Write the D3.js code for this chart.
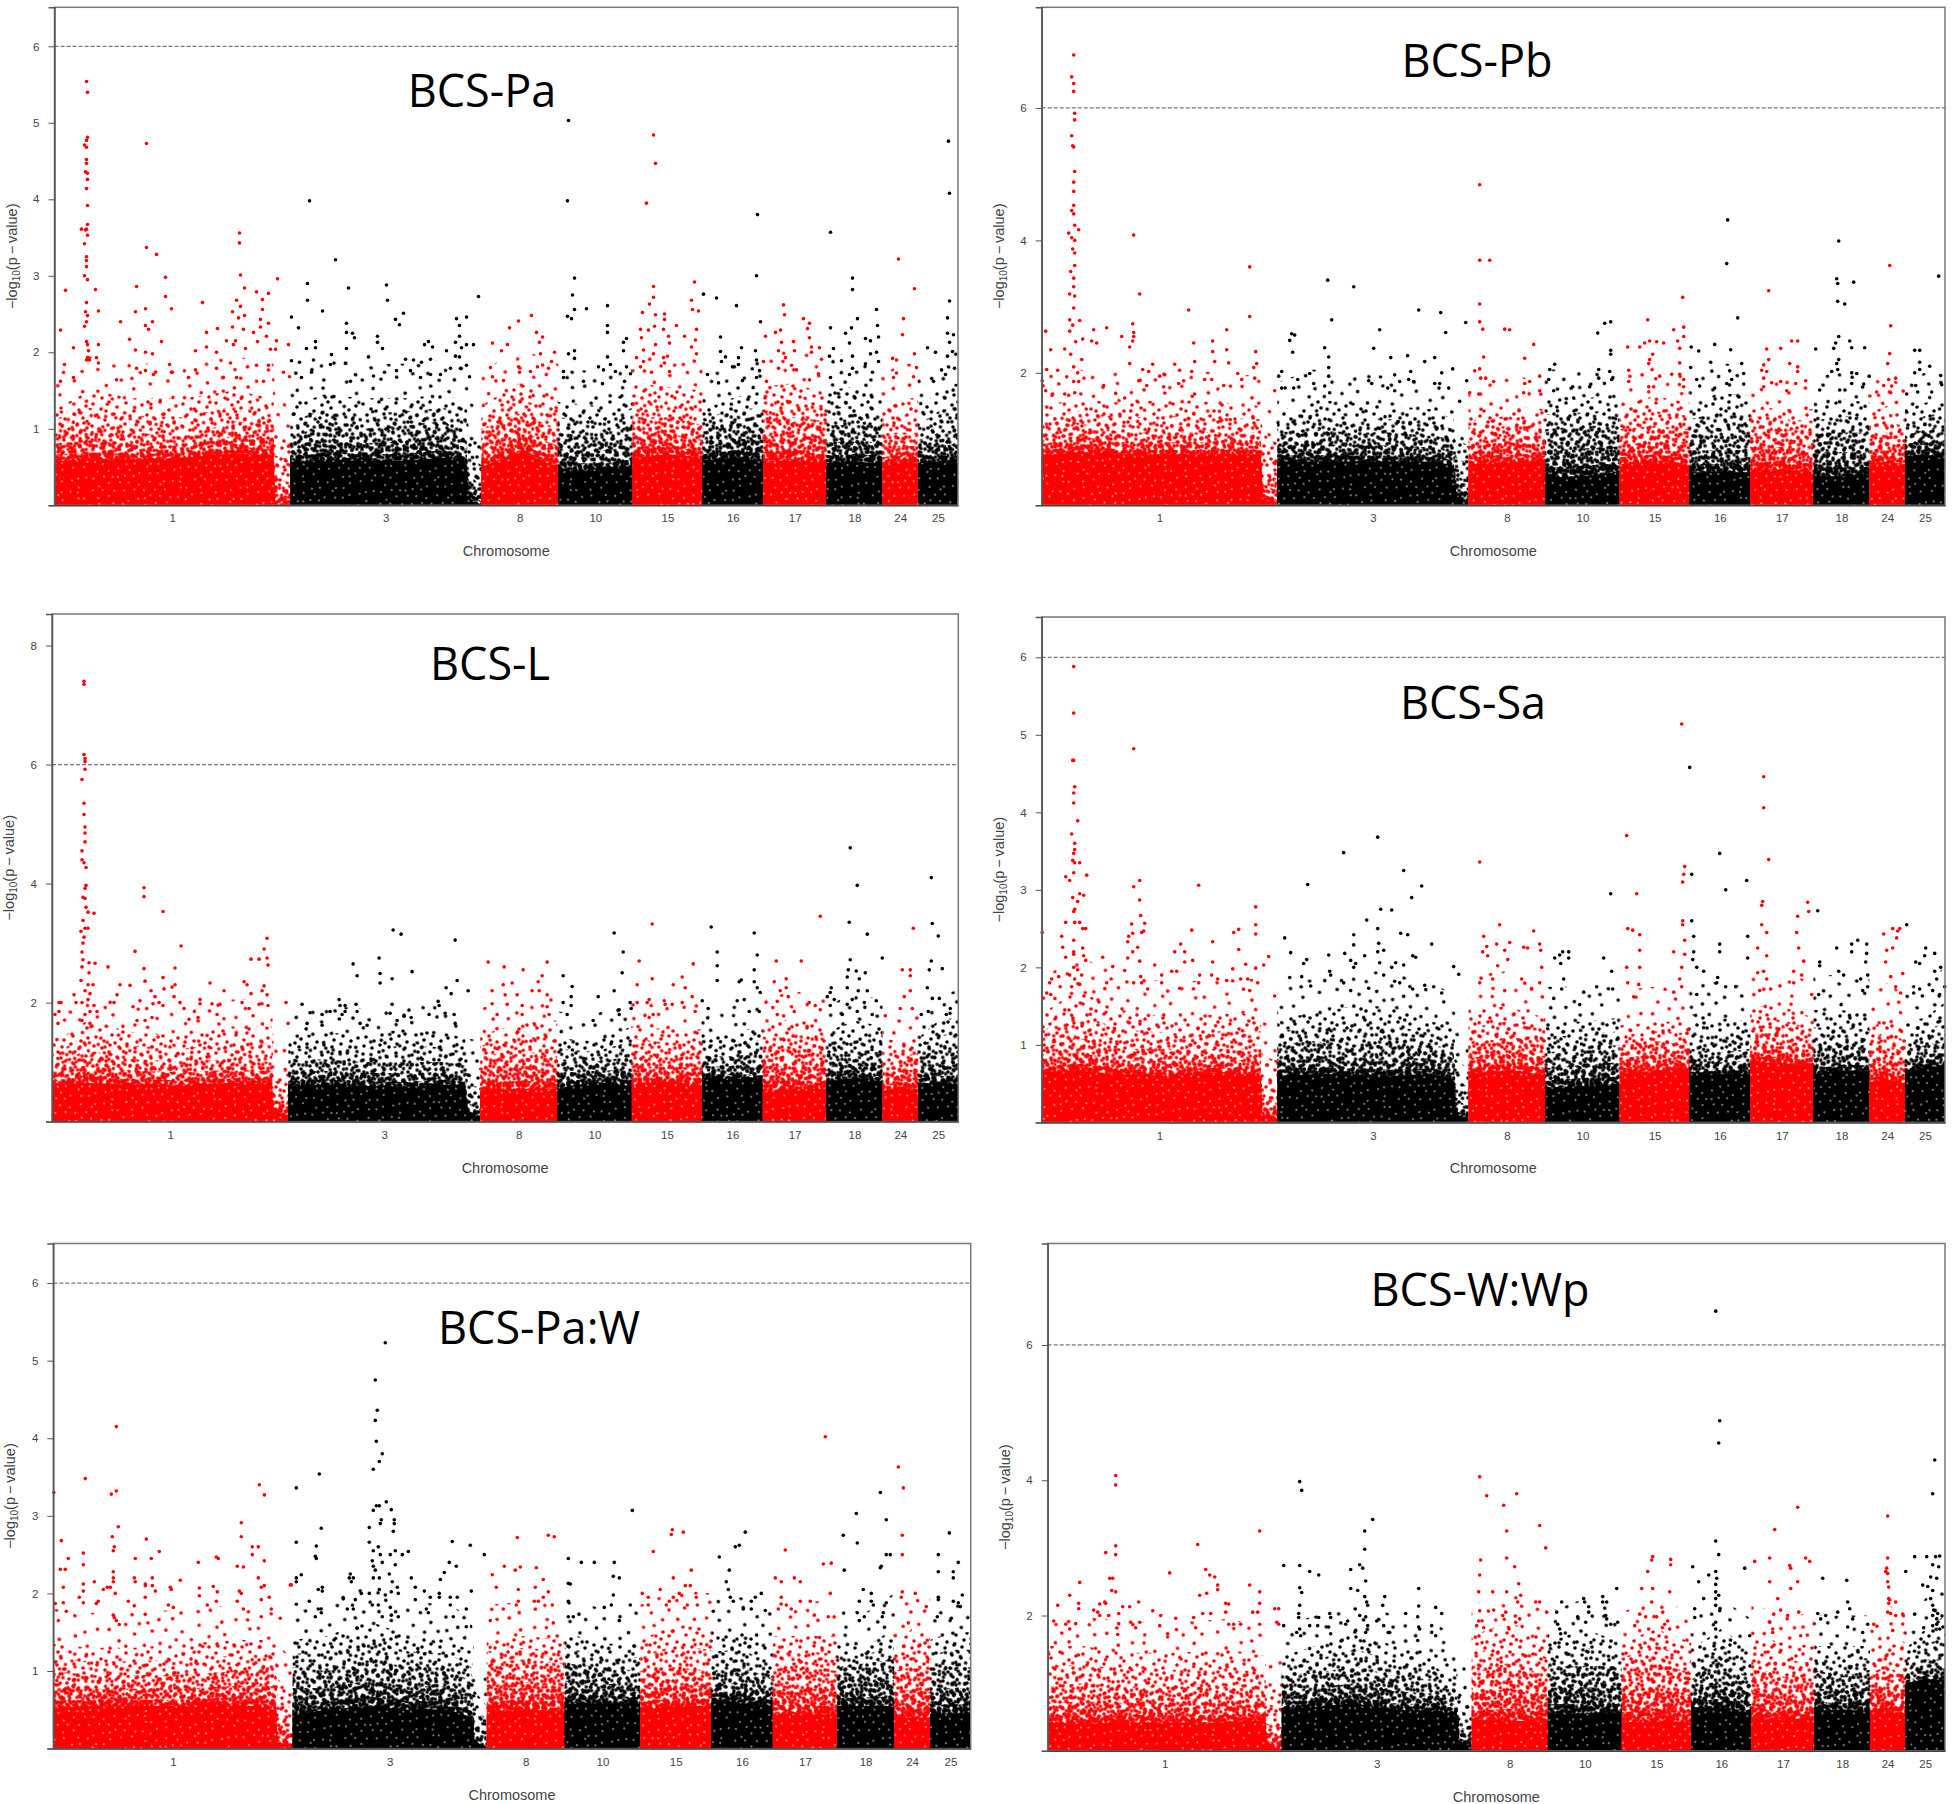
<!DOCTYPE html>
<html>
<head>
<meta charset="utf-8">
<script src="https://cdn.jsdelivr.net/npm/d3@7"></script>
<style>
body { margin: 0; background: #fff; }
svg { display: block; }
text { font-family: "Liberation Sans", Arial, sans-serif; fill: #444; }
.title { font-family: "Open Sans", sans-serif; font-size: 45px; fill: #000; text-anchor: middle; }
</style>
</head>
<body>
<div id="chart"></div>
<script>
// chromosomes, in plot order, on a common position axis
const chromNames = ['1', '3', '8', '10', '15', '16', '17', '18', '24', '25'];
const chromEnds = [235.7, 427, 503.8, 578.2, 648.2, 708.8, 772.2, 828.2, 863.8, 903.8];
const chromColors = ['#f00', '#000'];

const chromSamples = [
  [0, 35, 80, 130, 180, 219, 221, 235.7],
  [235.7, 270, 310, 350, 390, 412, 415, 427],
  [427, 465, 503.8], [503.8, 541, 578.2], [578.2, 613, 648.2], [648.2, 678, 708.8],
  [708.8, 740, 772.2], [772.2, 800, 828.2], [828.2, 846, 863.8], [863.8, 884, 903.8]
];

// The tens of thousands of low SNPs cannot be read one by one, so the mass is drawn
// as three envelopes: solid top, dense speckle top, sparse speckle top.
const solidPa = [[.58, .6, .6, .62, .68, .65, 0, 0], [.55, .6, .58, .58, .62, .55, .1, 0], [.5, .7, .5], [.48, .45, .48], [.62, .67, .62], [.58, .62, .58], [.57, .6, .55], [.55, .57, .55], [.55, .57, .55], [.55, .57, .55]];
const densePa = [[1, 1.05, .95, .9, 1.1, 1.05, .35, .3], [.85, 1.1, 1, 1.05, 1.1, .9, .4, .25], [1, 1.2, 1], [.95, .9, 1.05], [1.15, 1.15, 1.05], [1, 1.1, 1.05], [1.2, 1.15, 1.1], [1.05, 1.05, 1.05], [.95, .95, .95], [.85, .95, 1]];
const sparsePa = [[1.25, 1.5, 1.4, 1.4, 1.5, 1.4, .95, .9], [1.3, 1.45, 1.4, 1.4, 1.45, 1.35, .9, .8], [1.3, 1.6, 1.4], [1.35, 1.3, 1.5], [1.6, 1.55, 1.5], [1.25, 1.4, 1.5], [1.55, 1.6, 1.45], [1.5, 1.55, 1.4], [1.25, 1.4, 1.4], [1.25, 1.5, 1.6]];

const solidPb = [[.75, .8, .77, .77, .77, .77, .1, 0], [.66, .66, .66, .66, .66, .6, .15, 0], [.62, .66, .66], [.42, .44, .5], [.62, .66, .6], [.5, .5, .5], [.5, .55, .5], [.44, .44, .44], [.6, .66, .6], [.75, .77, .7]];
const densePb = [[1.05, 1.25, 1.1, 1.1, 1.1, 1.1, .5, .4], [1.1, 1.15, 1.1, 1.1, 1.05, 1, .45, .35], [1.1, 1.2, 1.1], [1.15, 1.2, 1.2], [1.15, 1.2, 1.15], [1.1, 1.1, 1.1], [1.2, 1.15, 1.1], [1.1, 1.1, 1.1], [1, 1.1, 1], [1.05, 1.15, 1.2]];
const sparsePb = [[1.5, 1.6, 1.55, 1.6, 1.55, 1.5, 1.1, .9], [1.4, 1.6, 1.55, 1.5, 1.45, 1.3, 1, .9], [1.45, 1.5, 1.45], [1.6, 1.6, 1.7], [1.5, 1.65, 1.55], [1.5, 1.7, 1.65], [1.5, 1.45, 1.45], [1.45, 1.6, 1.55], [1.4, 1.5, 1.35], [1.45, 1.55, 1.6]];

const solidL = [[.62, .65, .62, .62, .65, .65, .15, .1], [.6, .62, .6, .58, .62, .6, .15, .1], [.52, .55, .55], [.55, .67, .6], [.62, .67, .62], [.7, .73, .68], [.52, .55, .55], [.68, .73, .68], [.52, .55, .55], [.62, .67, .62]];
const denseL = [[.95, 1.2, 1.05, 1, 1.05, 1, .5, .5], [1, 1.05, 1, 1, 1, .95, .3, .25], [1.1, 1.2, 1.1], [1.05, 1, 1.1], [1.2, 1.1, 1.15], [1.1, 1.1, 1.15], [1.25, 1.25, 1.2], [1.15, 1.15, 1.15], [1, 1.1, 1.15], [1.1, 1.2, 1.2]];
const sparseL = [[1.3, 1.7, 1.5, 1.45, 1.6, 1.6, .85, .85], [1.4, 1.5, 1.45, 1.55, 1.5, 1.4, .95, .9], [1.45, 1.65, 1.7], [1.4, 1.35, 1.6], [1.6, 1.55, 1.55], [1.5, 1.5, 1.6], [1.6, 1.75, 1.6], [1.5, 1.7, 1.6], [1.4, 1.35, 1.4], [1.4, 1.7, 1.75]];

const solidSa = [[.65, .67, .62, .6, .65, .6, .1, .05], [.6, .62, .62, .6, .62, .55, .1, .05], [.62, .67, .62], [.45, .47, .5], [.62, .67, .7], [.65, .62, .62], [.77, .77, .72], [.62, .67, .67], [.52, .55, .5], [.62, .72, .72]];
const denseSa = [[.95, 1.1, .95, .95, .95, .95, .3, .25], [1, 1.05, 1, 1, 1, .95, .3, .2], [1, 1.1, 1.05], [.9, .96, 1], [1, 1.05, 1], [.95, .9, .95], [1.15, 1.15, 1.05], [1, 1, 1], [.95, 1, .9], [.9, 1, 1.05]];
const sparseSa = [[1.4, 1.7, 1.45, 1.35, 1.4, 1.4, .85, .8], [1.35, 1.4, 1.5, 1.5, 1.3, 1.25, .8, .7], [1.45, 1.5, 1.35], [1.3, 1.3, 1.35], [1.25, 1.3, 1.3], [1.4, 1.35, 1.3], [1.5, 1.5, 1.35], [1.45, 1.45, 1.4], [1.2, 1.35, 1.2], [1.3, 1.35, 1.55]];

const solidPaW = [[.52, .55, .55, .55, .58, .5, .1, 0], [.45, .5, .55, .5, .5, .4, .1, 0], [.48, .5, .48], [.6, .58, .58], [.5, .55, .55], [.62, .6, .55], [.45, .45, .42], [.55, .55, .55], [.4, .4, .4], [.45, .45, .45]];
const densePaW = [[1, .95, .95, .95, 1, 1.05, .4, .3], [1.05, 1, 1.15, 1.05, 1.05, .85, .3, .2], [1.1, 1.15, 1.1], [1.1, 1.05, 1], [1, 1.05, 1], [1, 1.05, .9], [1, 1.05, 1], [1.05, 1.1, 1.15], [1, 1.05, 1], [1, 1.05, 1.05]];
const sparsePaW = [[1.35, 1.3, 1.3, 1.35, 1.4, 1.4, .9, .7], [1.4, 1.45, 1.65, 1.45, 1.4, 1.25, .75, .55], [1.4, 1.45, 1.4], [1.5, 1.35, 1.35], [1.4, 1.6, 1.55], [1.5, 1.5, 1.3], [1.45, 1.45, 1.45], [1.35, 1.3, 1.55], [1.3, 1.55, 1.5], [1.4, 1.5, 1.5]];

const solidWWp = [[.42, .4, .42, .42, .42, .45, .1, 0], [.6, .65, .7, .6, .6, .5, .15, .05], [.45, .45, .42], [.55, .55, .55], [.42, .45, .42], [.65, .62, .6], [.5, .45, .5], [.6, .6, .6], [.6, .6, .55], [1, 1.05, 1.05]];
const denseWWp = [[.95, 1, .95, .95, .95, .9, .4, .35], [1.15, 1.15, 1.25, 1.1, 1.05, .8, .35, .3], [1.15, 1.3, 1.1], [1.25, 1.25, 1.25], [1.15, 1.3, 1.15], [1.05, 1.35, 1.05], [1.25, 1.1, 1.05], [1.2, 1.1, 1.2], [1.15, 1.25, 1.1], [1.2, 1.35, 1.35]];
const sparseWWp = [[1.55, 1.55, 1.45, 1.45, 1.5, 1.4, 1, .9], [1.4, 1.55, 1.75, 1.55, 1.45, 1.2, .85, .7], [1.7, 1.9, 1.65], [1.6, 1.8, 1.6], [1.6, 1.8, 1.6], [1.5, 1.8, 1.5], [1.7, 1.6, 1.55], [1.55, 1.55, 1.55], [1.4, 1.7, 1.6], [1.5, 1.8, 2]];

// single points above the mass: [position, -log10(p)]
const pointsPa = [[32,5.54],[33,5.4],[33,4.81],[32,4.77],[30,4.71],[32,4.68],[32,4.52],[32,4.47],[31,4.36],[33,4.34],[33,4.26],[32,4.14],[33,3.92],[33,3.67],[32,3.61],[27,3.61],[31,3.6],[33,3.53],[30,3.42],[32,3.25],[32,3.2],[32,3.12],[30,3],[33,2.95],[32,2.65],[31,2.53],[33,2.48],[32,2.4],[30,2.34],[32,2.14],[33,2.1],[34,2.02],[33,1.93],[35,1.9],[32,1.9],
[11,2.81],[6,2.29],[19,2.06],[10,1.84],[41,2.82],[44,2.54],[44,2.1],[42,1.93],[44,1.86],[92,4.73],[92,3.37],[102,3.28],[111,2.98],[111,2.73],[117,2.57],[82,2.86],[91,2.57],[81,2.53],[66,2.4],[91,2.35],[94,2.3],[98,2.4],[107,2.14],[75,2.17],[81,2.03],[91,2],[98,1.98],[115,1.84],[148,2.65],[152,2.26],[152,2.07],[163,2.31],[141,2.02],[185,3.56],[185,3.43],[186,3.01],[190,2.84],[182,2.68],[186,2.6],[178,2.53],[184,2.45],[190,2.48],[178,2.33],[189,2.3],[172,2.15],[181,2.15],[162,2],[179,2.1],[191,2.05],[202,2.79],[214,2.77],[208,2.69],[208,2.56],[206,2.43],[214,2.38],[206,2.33],[199,2.26],[212,2.21],[203,2.14],[222,2.15],[223,2.96],[234,2.1],[216,2.04],[221,2.04],[229,1.74],[235,1.68],[19,1.67],[6,1.62],[62,1.64],[82,1.79],[91,1.76],[99,1.71],[117,1.74],[134,1.67],[141,1.77],[162,1.79],[176,1.86],[202,1.83],[214,1.83],[169,1.67],[182,1.67],[209,1.62],
[255,3.98],[281,3.21],[253,2.9],[253,2.68],[294,2.84],[268,2.54],[237,2.46],[244,2.32],[332,2.88],[333,2.68],[349,2.51],[341,2.43],[345,2.36],[424,2.73],[412,2.46],[402,2.44],[405,2.35],[292,2.38],[292,2.26],[298,2.25],[300,2.19],[323,2.21],[323,2.13],[328,2.05],[405,2.21],[374,2.14],[370,2.1],[378,2.07],[392,2.02],[401,2.13],[407,2.06],[419,2.1],[412,2.1],[261,2.14],[252,2.05],[261,2.06],[237,1.89],[245,1.87],[259,1.9],[277,1.97],[276,1.84],[291,1.86],[292,2.05],[314,1.94],[351,1.91],[359,1.9],[367,1.87],[376,1.91],[401,1.95],[405,1.94],[412,1.83],[396,1.79],[406,1.79],[247,1.67],[257,1.74],[296,1.62],[319,1.69],[330,1.74],[342,1.76],[356,1.76],[366,1.67],[376,1.71],[386,1.71],[415,1.68],
[438,2.12],[447,2.02],[453,2.1],[455,2.32],[464,2.41],[477,2.48],[482,2.26],[488,2.2],[485,2.13],[486,1.98],[500,2],[497,1.88],[494,1.79],[483,1.81],[464,1.81],[436,1.8],[438,1.68],[465,1.74],[476,1.75],[449,1.63],
[514,5.03],[513,3.98],[520,2.97],[518,2.75],[520,2.56],[513,2.47],[517,2.44],[532,2.57],[553,2.61],[553,2.35],[553,2.26],[569,2.13],[572,2.18],[569,2.02],[514,1.98],[520,2.02],[520,1.92],[553,1.94],[556,1.84],[544,1.81],[549,1.77],[561,1.75],[572,1.81],[576,1.72],[509,1.75],[509,1.67],[529,1.62],[548,1.59],[570,1.62],
[599,4.84],[601,4.47],[592,3.95],[599,2.86],[595,2.63],[599,2.72],[588,2.52],[601,2.49],[610,2.5],[610,2.43],[600,2.34],[586,2.3],[594,2.29],[609,2.3],[622,2.35],[587,2.19],[614,2.21],[615,2.12],[640,2.92],[637,2.68],[638,2.56],[644,2.54],[642,2.3],[630,2.21],[641,2.16],[637,2.07],[642,1.98],[589,2.03],[601,2.1],[599,1.98],[609,1.93],[582,1.93],[589,1.88],[610,1.86],[586,1.81],[597,1.74],[615,1.75],
[649,2.76],[662,2.71],[666,2.2],[682,2.61],[703,3.8],[702,3],[706,2.4],[666,2.01],[671,1.94],[667,1.88],[687,2.06],[684,1.93],[684,1.84],[678,1.81],[701,2.02],[702,1.9],[709,1.88],[705,1.76],[653,1.71],[702,1.67],[688,1.63],[664,1.6],
[729,2.62],[730,2.49],[749,2.44],[755,2.38],[753,2.31],[711,2.21],[721,2.26],[726,2.29],[755,2.19],[727,2.13],[739,2.14],[724,2.02],[740,2.02],[757,2.07],[765,2.06],[767,1.91],[731,1.93],[757,2],[737,1.83],[742,1.77],[724,1.79],[764,1.72],[712,1.62],[755,1.64],
[776,3.57],[798,2.97],[798,2.82],[822,2.56],[803,2.44],[776,2.32],[797,2.32],[791,2.25],[795,2.12],[823,2.35],[824,2.2],[811,2.18],[816,2.15],[779,2.05],[775,1.95],[798,1.95],[787,1.89],[816,1.98],[822,2],[824,1.88],[811,1.85],[798,1.79],[795,1.71],[818,1.74],[776,1.67],
[844,3.22],[860,2.83],[849,2.44],[848,2.23],[860,1.98],[838,1.92],[842,1.9],[862,1.8],[842,1.73],[839,1.67],[859,1.68],
[894,4.76],[895,4.08],[895,2.67],[893,2.45],[893,2.25],[899,2.23],[895,2.13],[873,2.06],[881,2],[898,2.01],[893,1.95],[887,1.77],[900,1.79],[891,1.71],[879,1.62]];

const pointsPb = [[32,6.8],[30,6.47],[32,6.37],[32,6.25],[33,5.92],[33,5.82],[30,5.58],[31,5.43],[32,5.41],[33,5.04],[32,4.88],[32,4.74],[32,4.53],[30,4.45],[32,4.4],[33,4.23],[37,4.16],[27,4.11],[30,4.04],[33,4],[31,3.87],[33,3.81],[33,3.62],[29,3.53],[32,3.43],[32,3.3],[28,3.19],[33,3.16],[32,2.98],[28,2.8],[38,2.79],[31,2.72],[28,2.63],[34,2.47],[41,2.51],[23,2.36],[29,2.28],[40,2.2],[32,2.09],[36,2],[25,1.94],[32,1.87],[37,1.87],[23,1.68],[33,1.7],
[4,2.63],[9,2.35],[5,2.05],[16,2.04],[0.5,1.88],[4,1.73],[11,1.68],[50,2.48],[52,2.65],[55,2.45],[65,2.68],[80,2.55],[88,2.39],[88,2.14],[92,4.08],[98,3.19],[91,2.74],[92,2.61],[92,2.55],[91,2.48],[101,2.05],[107,2.02],[111,2.13],[97,1.88],[118,1.95],[123,1.97],[133,2.13],[138,2.04],[150,2.02],[147,2.95],[152,2.45],[153,2.17],[171,2.48],[171,2.32],[173,2.17],[185,2.65],[185,2.35],[187,2.15],[208,3.6],[208,2.85],[214,2.32],[215,2.14],[212,2.08],[196,1.99],[233,1.73],[163,1.9],[170,1.9],[182,1.81],[200,1.9],[213,1.92],[62,1.81],[74,1.69],[83,1.62],[105,1.81],[122,1.79],[137,1.84],[142,1.88],[153,1.68],
[286,3.4],[312,3.3],[290,2.8],[377,2.95],[399,2.91],[424,2.76],[338,2.65],[404,2.61],[248,2.49],[250,2.59],[253,2.57],[251,2.31],[283,2.38],[287,2.24],[287,2.08],[287,1.95],[332,2.37],[349,2.23],[366,2.26],[383,2.17],[393,2.23],[369,2.02],[400,2],[411,2.06],[240,2.02],[237,1.95],[268,1.99],[353,1.97],[256,1.9],[327,1.88],[330,1.84],[358,1.87],[367,1.9],[372,1.87],[393,1.84],[398,1.84],[425,1.88],[272,1.84],[283,1.8],[288,1.7],[240,1.77],[252,1.77],[346,1.77],[353,1.73],[407,1.77],[418,1.57],
[438,4.84],[448,3.7],[438,3.7],[438,3.04],[438,2.77],[441,2.66],[463,2.66],[468,2.65],[492,2.43],[483,2.22],[442,2.24],[498,1.95],[488,1.87],[483,1.84],[452,1.87],[444,1.92],[498,1.73],[482,1.7],[433,2.03],[438,2.06],[439,1.92],[428,1.7],[437,1.68],
[556,2.6],[563,2.75],[569,2.77],[569,2.34],[569,2.28],[513,2.13],[508,2.05],[557,2.05],[568,2.02],[507,1.9],[557,1.92],[570,1.9],[531,1.79],[512,1.73],[548,1.79],[518,1.59],[532,1.62],
[606,2.8],[586,2.39],[598,2.39],[603,2.45],[608,2.48],[615,2.47],[622,2.45],[611,2.28],[608,2.2],[607,2.14],[587,2.04],[587,1.87],[641,3.14],[632,2.65],[642,2.69],[642,2.55],[636,2.48],[638,2.37],[638,2.15],[649,2.08],[630,1.98],[638,1.98],[642,1.9],[618,1.95],[614,1.91],[607,1.79],[642,1.79],
[649.5,2.39],[657,2.33],[673,2.43],[669,2.16],[686,4.31],[685,3.65],[696,2.83],[689,2.35],[700,2.14],[688,2.03],[702,1.99],[655,1.9],[658,1.8],[690,1.9],[685,1.84],[702,1.83],[673,1.77],
[727,3.24],[725,2.36],[739,2.37],[750,2.48],[756,2.48],[727,2.2],[748,2.14],[722,2.12],[756,2.09],[720,2.04],[725,2.02],[756,2.02],[722,1.92],[730,1.85],[739,1.87],[764,1.88],[754,1.84],[722,1.79],[745,1.73],
[797,3.99],[795,3.42],[796,3.35],[812,3.37],[796,3.08],[803,3.04],[797,2.55],[774,2.36],[792,2.37],[794,2.45],[808,2.48],[810,2.38],[823,2.38],[797,2.2],[795,2.14],[790,2.02],[796,2.05],[810,2],[815,1.99],[827.5,1.95],[810,1.84],[822,1.83],[778,1.74],[798,1.74],
[848,3.62],[849,2.71],[848,2.29],[846,2.14],[854,1.92],[847,1.9],[842,1.81],[850,1.8],[835,1.71],[849,1.7],
[897,3.46],[873,2.34],[878,2.34],[878,2.16],[888,2.1],[878,2.05],[873,2],[899,1.96],[900,1.82],[874,1.81],[865,1.68],[876,1.71],[890,1.71]];

const pointsL = [[32,7.4],[32,7.35],[32,6.17],[33,6.1],[33,6.05],[33,5.92],[30,5.75],[32,5.35],[32,5.16],[33,4.95],[33,4.85],[33,4.7],[30,4.55],[30,4.4],[32,4.35],[34,4.27],[34,3.97],[33,3.92],[31,3.77],[33,3.75],[34,3.6],[36,3.52],[42,3.5],[31,3.38],[33,3.25],[36,3.25],[29,3.2],[32,3.1],[31,3],[30,2.85],[31,2.72],[37,2.67],[43,2.66],[30,2.6],[37,2.5],[29,2.37],[36,2.3],[41,2.3],[33,2.2],[38,2.15],[22,2.13],[24,2],[30,2],[36,2.05],[42,1.95],[33,1.8],[38,1.85],[45,1.85],[30,1.7],[38,1.65],
[7,2],[9,2],[7,1.85],[3,1.8],[6,1.65],[56,2.6],[68,2.3],[78,2.29],[65,2.13],[62,2],[83,2.86],[92,3.93],[92,3.78],[88,2.03],[81,1.93],[93,1.7],[85,1.7],[92,2.57],[93,2.36],[99,2.2],[103,2.1],[101,1.98],[107,2],[111,1.95],[100,1.75],[111,3.53],[111,2.42],[112,2.23],[120,2.26],[123,2.58],[123,2.3],[122,2.1],[128,2],[129,2.95],[132,1.9],[148,2.05],[148,1.98],[137,1.72],[146,1.75],[158,2.33],[160,1.98],[168,1.97],[172,2.2],[165,1.8],[192,2.35],[195,2.3],[199,2.15],[190,2],[197,1.9],[199,2.73],[207,2.73],[212,2.9],[215,3.08],[215,2.75],[216,2.63],[212,2.28],[210,2.2],[215,2.13],[207,1.97],[216,1.95],[201,1.78],[234,2],[236,1.65],
[301,2.65],[305,2.45],[327,2.75],[328,2.49],[328,2.33],[341,3.22],[349,3.15],[340,2.4],[360,2.52],[403,3.05],[405,2.37],[394,2.25],[399,2.15],[416,2.2],[340,1.97],[250,1.97],[278,1.85],[258,1.83],[270,1.8],[290,1.8],[287,2.05],[288,1.95],[293,1.95],[293,1.85],[304,1.97],[305,1.85],[338,1.82],[386,2.02],[387,1.95],[393,1.82],[402,1.8],[352,1.77],[359,1.75],[377,1.8],[345,1.7],[403,1.65],[270,1.62],[255,1.65],[308,1.65],[315,1.62],
[436,2.68],[452,2.6],[471,2.55],[486,2.35],[490,2.45],[495,2.68],[460,2.33],[451,2.3],[440,2.2],[453,2.13],[465,2.13],[440,1.98],[480,2.2],[487,2.2],[495,2.13],[495,1.93],[455,1.97],[470,1.95],[497,1.8],[445,1.8],[470,1.8],
[511,2.45],[520,2.27],[519,2.1],[511,2],[519,1.95],[546,2.1],[562,3.17],[571,2.85],[570,2.5],[562,2.2],[578,2],[579,1.9],[567,1.88],[567,1.8],[515,1.8],[541,1.7],
[600,3.32],[587,2.7],[585,2.3],[600,2.4],[621,2.3],[630,2.43],[633,2.25],[640,2.1],[641,2.65],[612,2.03],[597,2.05],[613,1.97],[620,1.97],[585,2],[595,2],[630,2],[650,2.03],[643,1.85],[601,1.8],[597,1.75],
[659,3.27],[665,2.85],[665,2.62],[665,2.37],[656,1.9],[687,2.35],[689,2.38],[702,3.17],[705,2.8],[702,2.55],[702,2.35],[705,2.25],[708,2.17],[685,2.03],[692,2.05],[697,1.85],[707,1.85],
[768,3.45],[749,2.7],[724,2.7],[722,2.35],[734,2.4],[734,2.25],[728,2.2],[736,2.1],[725,2.02],[757,2],[763,1.95],[768,1.88],[742,1.85],[725,1.8],
[775,2.1],[779,2.25],[798,4.6],[805,3.97],[797,3.35],[815,3.15],[830,2.75],[798,2.72],[796,2.55],[804,2.53],[813,2.5],[795,2.43],[807,2.4],[815,2.2],[795,2.25],[806,2.2],[778,2.17],[800,2.05],[782,2.05],[795,1.97],[812,2],[824,2.03],[778,1.95],[805,1.85],[820,1.8],[790,1.8],
[861,3.25],[850,2.55],[858,2.55],[858,2.45],[852,2.1],[858,2.2],[848,1.9],[860,1.9],[833,1.78],
[879,4.1],[880,3.33],[886,3.12],[879,2.7],[877,2.55],[890,2.57],[875,2.25],[880,2.07],[887,2.07],[869,1.8],[876,1.85],[898,1.9],[894,1.8]];

const pointsSa = [[32,5.88],[32,5.28],[31,4.67],[32,4.67],[33,4.33],[32,4.25],[32,4.12],[36,3.89],[30,3.72],[33,3.6],[33,3.52],[32,3.47],[31,3.38],[33,3.35],[38,3.35],[32,3.22],[24,3.17],[28,3.12],[45,3.19],[31,2.9],[38,2.95],[42,2.93],[36,2.85],[33,2.75],[32,2.72],[24,2.58],[33,2.58],[38,2.58],[41,2.5],[44,2.5],[32,2.35],[20,2.4],[21,2.26],[24,2.13],[32,2.2],[32,2.17],[41,2.25],[42,2.15],[44,2.09],[32,2],[36,1.97],[28,1.9],[33,1.85],[40,1.9],[30,1.75],[38,1.78],
[0.5,2.45],[17,1.88],[10,1.85],[8,1.8],[5,1.67],[9,1.65],[61,2.13],[71,2.01],[65,1.8],[83,1.96],[90,2.56],[92,3.04],[98,3.12],[92,4.82],[98,2.87],[99,2.67],[103,2.57],[87,2.4],[86,2.33],[91,2.44],[96,2.26],[102,2.47],[100,2.45],[86,2.12],[91,2.2],[98,2.08],[99,1.88],[92,1.8],[100,1.8],[106,1.72],[113,2.03],[120,1.9],[120,1.8],[133,2.2],[130,1.95],[135,1.95],[138,1.73],[139,2.3],[143,2.2],[143,2.07],[150,2.48],[151,2.09],[157,3.06],[158,1.9],[157,1.8],[171,2.33],[171,2.07],[170,1.9],[176,1.85],[185,1.83],[192,2.45],[197,2.49],[197,2.23],[191,1.98],[204,2.04],[199,1.85],[206,1.85],[214,2.78],[214,2.55],[214,2.43],[214,1.99],[216,1.8],[208,1.7],[222,2.03],[227,2.14],[233,1.63],
[243,2.38],[249,2.19],[248,1.87],[260,1.88],[262,2.05],[265,2.1],[266,3.07],[269,1.76],[287,2.16],[288,1.95],[289,1.9],[302,1.8],[303,2.18],[302,3.48],[309,1.7],[309,2.09],[312,2.42],[312,2.29],[312,2],[314,2.05],[325,2.61],[323,2.15],[327,1.73],[336,3.68],[336,2.5],[337,2.31],[336,2.2],[338,2.06],[339,2.75],[342,2.22],[342,1.9],[350,2.74],[350,2],[354,2.06],[353,1.82],[362,3.25],[362,2.03],[358,1.8],[370,2.9],[359,2.44],[366,2.42],[374,2.13],[371,1.72],[371,2.15],[380,3.05],[390,2.3],[383,1.77],[392,1.75],[412,2.01],[417,1.91],[400,1.67],
[438,3.36],[458,2.55],[492,2.47],[442,2.4],[445,2.27],[468,2.32],[455,2.3],[482,2.26],[498,2.3],[446,2.15],[456,2.02],[463,2.22],[486,2.25],[499,2.22],[441,2.2],[466,2.1],[500,2],[451,1.85],[438,1.8],[463,1.7],[490,1.72],[480,1.85],[498,1.8],
[518,2.16],[513,2.12],[521,2.2],[519,2.05],[527,2.2],[527,2.12],[522,1.85],[520,1.72],[512,1.6],[569,2.95],[562,2.12],[570,1.95],[555,1.75],[571,1.72],[542,1.68],[538,1.52],
[585,3.7],[586,2.5],[595,2.95],[591,2.48],[598,2.42],[598,2.22],[598,2],[585,2],[597,1.78],[586,1.8],[592,1.62],[640,5.14],[648,4.58],[643,3.3],[642,3.2],[641,3.1],[641,2.6],[641,2.55],[643,2.35],[632,2.2],[643,2.17],[640,2],[638,1.85],[640,1.75],[632,1.68],[650,3.2],
[650,2.6],[652,2.4],[652,2.2],[651,2.1],[655,2],[662,1.95],[655,1.65],[678,3.47],[684,3],[705,3.12],[706,2.4],[706,2.12],[678,2.3],[678,2.2],[676,1.87],[675,1.8],[684,1.75],[694,1.75],
[722,4.46],[722,4.06],[727,3.39],[721,2.85],[720,2.8],[720,2.55],[725,2.45],[716,2.25],[725,2.15],[716,1.93],[722,1.95],[725,1.85],[718,1.7],[729,1.72],[756,2.66],[766,2.84],[767,2.72],[755,2.45],[757,2.25],[762,2.08],[752,1.95],[760,1.9],[752,1.8],[770,1.65],
[776,2.73],[778,2.02],[778,2.07],[777,1.65],[795,2.25],[797,1.95],[802,1.9],[816,2.35],[810,2.3],[810,2.2],[825,2.3],[825,2.18],[824,2.07],[826,1.9],[819,1.85],[826,1.75],[821,1.7],
[842,2.43],[851,2.5],[856,2.47],[858,2.5],[855,2.38],[851,2.25],[845,2.22],[844,2.07],[849,1.88],[861,1.92],[854,1.75],[859,1.67],
[865,2.55],[874,2.07],[878,2.05],[884,2.25],[883,2.15],[893,2.18],[893,1.95],[899,2],[895,1.85],[903,1.75],[872,1.67],[878,1.72],[891,1.7],[898,1.65]];

const pointsPaW = [[0.5,3.3],[32,3.48],[58,3.28],[63,3.32],[65,2.86],[59,2.73],[61,2.6],[60,2.55],[30,2.52],[30,2.37],[8,2.68],[7,2.31],[12,2.31],[10,2.08],[15,2.45],[2,1.87],[10,1.88],[13,1.77],[30,2.12],[30,2.03],[41,2.15],[30,1.88],[26,1.95],[45,1.9],[43,1.87],[60,2.28],[60,2.2],[60,2.15],[54,2.08],[57,2.08],[62,2],[50,2.05],[60,1.72],[63,1.65],[66,1.6],
[63,4.15],[82,2.45],[81,2.2],[82,2.15],[93,2.7],[92,2.12],[92,2.1],[98,2.45],[99,2.2],[99,2.1],[102,2.03],[106,2.54],[75,1.9],[81,1.84],[92,1.95],[92,1.73],[117,2.08],[127,2.17],[118,2.05],[115,1.85],[120,1.82],[145,2.4],[146,2.07],[146,1.97],[154,1.85],[160,2.09],[163,2.47],[165,2.45],[164,2.02],[163,1.9],[184,2.35],[188,2.91],[188,2.73],[190,2.34],[186,2.03],[188,2],[184,1.9],[190,1.8],[199,2.6],[205,2.6],[199,2.5],[205,2.2],[208,2.08],[208,1.92],[211,2.42],[208,1.7],[206,3.4],[211,3.27],[211,2.1],[216,1.95],[218,1.8],[238,2.11],[237,2.11],[227,1.68],
[243,3.36],[266,3.54],[268,2.84],[243,2.66],[263,2.61],[262,2.48],[263,2.45],[243,2.2],[243,2.15],[248,2.24],[269,2.08],[265,2.05],[269,2.03],[243,1.86],[256,1.9],[265,1.8],[268,1.75],[262,1.7],[332,5.23],[322,2.3],[297,2.25],[296,2.2],[300,2.2],[298,2.15],[290,1.93],[302,1.92],[308,2],[294,1.8],[300,1.8],[316,2],
[322,4.75],[324,4.36],[322,4.23],[323,3.96],[329,3.8],[326,3.7],[320,3.6],[320,3.07],[323,3.13],[326,3.13],[333,3.18],[338,3.08],[328,2.95],[327,2.9],[341,2.95],[341,2.9],[340,2.8],[316,2.85],[316,2.66],[325,2.6],[320,2.55],[327,2.5],[337,2.5],[342,2.55],[349,2.5],[355,2.54],[319,2.42],[320,2.35],[329,2.4],[342,2.37],[320,2.2],[326,2.2],[336,2.25],[339,2.15],[338,2.02],[344,2.08],[326,2.05],[332,1.98],[345,2],[319,1.85],[325,1.85],[337,1.82],[329,1.7],[338,1.72],[345,1.7],
[358,2.2],[362,2.08],[362,1.92],[371,2.03],[373,1.8],[375,1.75],[377,1.95],[386,2],[386,1.95],[387,2.18],[391,2.27],[397,1.85],[397,1.95],[404,1.95],[396,2.4],[403,2.35],[399,2.67],[417,2.62],[413,1.8],[431,2.5],[418,2.03],[400,1.7],[413,1.57],
[439,2.24],[443,2.08],[451,2.35],[462,2.3],[465,2.05],[464,2.72],[467,2.34],[465,1.9],[463,1.85],[450,1.8],[483,2.33],[482,2.08],[481,1.9],[495,2.75],[501,2.73],[490,2.18],[495,2.02],[485,1.9],[499,1.85],[490,1.95],[500,1.62],[437,1.65],
[515,2.45],[528,2.4],[541,2.4],[561,2.4],[560,2.22],[566,2.2],[515,2.13],[517,2.12],[515,1.9],[560,1.98],[558,1.85],[551,1.82],[577,1.85],[579,3.07],[566,1.65],[515,1.7],[520,1.7],
[600,2.54],[607,2.05],[619,2.82],[618,2.76],[630,2.79],[620,2.2],[638,2.3],[632,2.1],[626,2],[637,2.1],[595,1.95],[589,2],[616,1.9],[620,1.95],[634,1.85],[644,1.85],[643,1.95],[613,1.85],[595,1.85],[660,1.77],
[666,2.47],[676,2.3],[682,2.6],[686,2.62],[692,2.79],[673,2.15],[675,2.05],[677,1.95],[680,1.9],[698,1.9],[708,2],[702,1.95],[698,1.8],[712,1.78],[690,1.8],
[732,2.56],[722,2.2],[728,2.15],[741,2.2],[747,2.15],[728,1.95],[725,1.8],[733,1.85],[738,1.8],[747,1.9],[757,1.9],[772,4.02],[770,2.38],[778,2.39],[777,2],[761,1.72],[775,1.7],
[790,2.75],[791,2.3],[803,3.03],[804,2.65],[810,2.05],[818,2],[818,1.9],[806,1.9],[820,1.85],[804,1.75],[811,1.7],[806,1.65],
[827,3.3],[833,2.95],[827,2.33],[828,2.35],[833,2.5],[837,2.5],[833,1.88],[830,1.75],[829,1.7],[845,3.63],[850,3.36],[849,2.75],[849,2.5],[849,2.02],[848,1.95],[862,2],[873,1.83],[855,1.62],
[885,2.5],[885,2.28],[896,2.78],[885,1.95],[885,1.92],[900,2.28],[900,2.2],[905,2.4],[900,1.9],[905,1.88],[909,1.98],[907,1.83],[884,1.7],[898,1.68]];

const pointsWWp = [[68,4.07],[68,3.93],[58,2.93],[68,3.03],[68,2.9],[65,2.55],[62,2.55],[68,2.35],[64,2.37],[32,2.49],[22,2.3],[31,2.18],[31,2.1],[10,2.15],[6,1.92],[18,1.87],[22,1.8],[28,1.88],[46,2.08],[50,2.05],[52,2.17],[57,2.2],[58,2.18],[52,2],[61,2],[71,2.03],[75,2.13],[82,2.13],[91,2.2],[71,1.88],[83,1.9],[92,1.9],[88,1.82],[105,2.07],[113,2],[112,1.85],[122,2.63],[128,1.96],[150,3.05],[158,2.68],[162,2.6],[167,2.57],[170,2.45],[170,2.38],[152,2.3],[159,2.33],[155,2.03],[163,2.03],[146,1.97],[148,1.82],[178,2.18],[181,2.17],[178,2.05],[181,1.87],[186,1.87],[193,1.87],[202,2.45],[212,3.25],[212,2.35],[212,2.18],[205,2.05],[210,2.05],[212,1.87],[227,2.1],[231,2.1],[229,1.9],[231,1.87],[120,1.73],[70,1.72],
[236,2.74],[252,2.74],[252,3.98],[254,3.85],[262,2.65],[271,2.6],[252,2.41],[254,2.34],[252,2.15],[251,2.03],[251,1.97],[262,1.85],[271,1.97],[270,1.85],[281,1.83],[283,1.73],[282,2.03],[283,1.97],[236,1.85],[252,1.8],[253,1.7],[249,1.75],[300,1.92],[298,1.87],[325,3.42],[317,3.25],[317,2.98],[303,2.68],[312,2.75],[315,2.7],[318,2.51],[303,2.4],[310,2.37],[317,2.28],[319,2.2],[320,2.15],[337,2.28],[335,2.15],[312,2],[318,1.98],[329,1.92],[336,1.85],[320,1.85],[308,1.78],[318,1.75],[342,1.75],[358,2.03],[371,2.14],[370,1.98],[371,1.83],[372,1.8],[371,2.4],[384,1.85],[388,2.12],[394,2.03],[370,1.63],[388,1.7],
[432,4.05],[439,3.77],[433,2.82],[432,2.6],[431,2.35],[432,2.07],[429,1.85],[431,1.92],[436,1.82],[456,3.63],[469,3.8],[459,3.25],[492,3.33],[498,3],[459,2.85],[467,2.72],[471,2.47],[499,2.05],[492,2.2],[459,2.35],[445,2.35],[446,2.08],[455,2],[458,2.05],[470,2.2],[473,2.3],[468,1.9],[472,1.95],[488,2.2],
[509,2.05],[514,2.2],[510,1.87],[512,1.8],[530,1.98],[536,2.25],[537,2.2],[541,2.13],[541,2.05],[555,2.28],[559,2.2],[555,2.2],[558,2],[569,2.4],[563,1.87],[559,1.95],[570,1.9],[538,1.9],[513,1.73],
[600,2.65],[594,2.4],[605,2.87],[604,2.82],[623,2.83],[623,2.75],[605,2.4],[622,2.35],[604,2.2],[592,2.02],[615,2.05],[598,1.98],[609,1.98],[620,1.92],[587,1.85],[601,1.8],[617,1.87],[622,1.8],
[645,2.72],[651,2.5],[661,2.6],[656,2.25],[668,2.25],[668,2.46],[668,2.35],[668,2.15],[668,1.9],[668,1.8],[672,4.88],[671,4.55],[668,3.1],[671,2.9],[668,6.5],[668,2.65],[669,2.55],[671,2.3],[672,2.07],[647,2.1],[647,1.97],[697,2.7],[702,1.7],
[727,3.27],[722,2.85],[707,2.8],[742,2.74],[750,3.6],[758,2.85],[750,2.5],[762,2.8],[722,2.5],[743,2.7],[743,2.4],[730,2.25],[733,2.08],[726,2.02],[740,2],[751,2.05],[753,1.7],[722,1.9],[725,1.75],[725,1.8],
[775,2.55],[770,2.03],[778,2],[773,1.95],[790,2.05],[799,2.52],[800,2.2],[802,2.1],[805,1.95],[800,1.83],[820,1.87],[815,1.75],
[839,2.7],[840,2.5],[843,2.03],[841,2.42],[842,2.23],[848,2.2],[848,2],[858,2.65],[840,2.85],[840,2.62],[838,2.65],[841,2.25],[840,3.47],[841,2.18],[826,1.87],[840,2.05],[855,2.02],[845,1.78],
[867,2.02],[867,2.87],[879,2.87],[888,2.87],[892,2.88],[883,2.57],[885,2.37],[883,2.25],[885,2.15],[886,2.08],[890,2.03],[885,2],[889,1.95],[885,2.75],[887,4.3],[885,3.8],[891,2.72],[889,2.55],[875,2.45],[880,2.43],[889,1.87],[876,1.82],[885,1.85],[892,1.8]];

// irregular dot tile for the speckled part of the mass (a texture, not data)
const speckleTile = [[3,4],[11,9],[19,2],[27,7],[36,3],[44,11],[52,5],[61,8],[70,2],[79,10],[86,6],[7,15],[15,20],[24,14],[31,19],[40,16],[48,22],[57,15],[65,19],[74,14],[83,18],[2,26],[10,30],[18,25],[28,28],[35,24],[43,31],[53,27],[60,24],[69,29],[77,25],[87,28],[6,37],[14,41],[22,35],[31,39],[39,36],[47,42],[56,35],[64,40],[73,36],[81,41],[4,46],[12,48],[20,45],[29,47],[37,44],[45,48],[54,45],[62,47],[71,44],[80,47],[88,38],[16,11],[33,32],[50,18],[67,33],[84,23],[25,43],[58,2]];

// page layout of the six plots
const plots = [
  { title: 'BCS-Pa', left: 54.5, right: 958, top: 7.3, base: 505.3, yMax: 6.51, yTicks: [0, 1, 2, 3, 4, 5, 6], span: 903.5, titleX: 482, titleY: 107, points: pointsPa, solid: solidPa, dense: densePa, sparse: sparsePa },
  { title: 'BCS-Pb', left: 1041.7, right: 1945, top: 7.3, base: 505.3, yMax: 7.52, yTicks: [0, 2, 4, 6], span: 903.3, titleX: 1477, titleY: 77, points: pointsPb, solid: solidPb, dense: densePb, sparse: sparsePb },
  { title: 'BCS-L', left: 52, right: 958.3, top: 614, base: 1121.6, yMax: 8.53, yTicks: [0, 2, 4, 6, 8], span: 906, titleX: 490, titleY: 679.6, points: pointsL, solid: solidL, dense: denseL, sparse: sparseL },
  { title: 'BCS-Sa', left: 1041.7, right: 1945, top: 617, base: 1122.4, yMax: 6.52, yTicks: [0, 1, 2, 3, 4, 5, 6], span: 903.3, titleX: 1473, titleY: 719.4, points: pointsSa, solid: solidSa, dense: denseSa, sparse: sparseSa },
  { title: 'BCS-Pa:W', left: 53.3, right: 970.7, top: 1243.5, base: 1748.6, yMax: 6.51, yTicks: [0, 1, 2, 3, 4, 5, 6], span: 917.4, titleX: 539, titleY: 1344, points: pointsPaW, solid: solidPaW, dense: densePaW, sparse: sparsePaW },
  { title: 'BCS-W:Wp', left: 1047.7, right: 1945, top: 1243.5, base: 1750.8, yMax: 7.5, yTicks: [0, 2, 4, 6], span: 897.3, titleX: 1480, titleY: 1306, points: pointsWWp, solid: solidWWp, dense: denseWWp, sparse: sparseWWp }
];

const svg = d3.select('#chart').append('svg').attr('width', 1952).attr('height', 1804);
const defs = svg.append('defs');

function addPattern(id, color, r, angle, scale) {
  const p = defs.append('pattern').attr('id', id)
    .attr('patternUnits', 'userSpaceOnUse').attr('width', 90).attr('height', 50)
    .attr('patternTransform', 'rotate(' + angle + ') scale(' + scale + ')');
  p.selectAll('circle').data(speckleTile).join('circle')
    .attr('cx', d => d[0]).attr('cy', d => d[1]).attr('r', r / scale).attr('fill', color);
}

const speckleAngles = [0, 37, 71, 113, 19, 53, 89, 131, 151, 7, 29, 61, 101, 167];
chromColors.forEach((c, i) => {
  speckleAngles.forEach((a, j) => addPattern('speckle-' + i + '-' + j, c, 1.8, a, 1));
  addPattern('far-' + i, c, 1.8, 17, 1.6);
});
addPattern('fleck', '#fff', 0.8, 23, 1);

const chromStarts = [0].concat(chromEnds.slice(0, -1));
const chromMids = chromEnds.map((e, i) => (e + chromStarts[i]) / 2);

plots.forEach(drawPlot);

function drawPlot(p) {
  const genome = d3.scaleLinear().domain([0, 903.8]).range([p.left, p.right]);
  const pos = d3.scaleLinear().domain([0, p.span]).range([p.left, p.right]);
  const y = d3.scaleLinear().domain([0, p.yMax]).range([p.base, p.top]);
  const g = svg.append('g');

  // mass of low points, per chromosome: more speckle layers the lower it gets
  chromSamples.forEach((xs, c) => {
    const color = c % 2;
    const area = k => d3.area().x((d, i) => genome(xs[i])).y0(p.base).y1(d => y(d))(k);
    const mix = (a, b, t) => a.map((d, i) => d + (b[i] - d) * t);
    const solid = p.solid[c], dense = p.dense[c], sparse = p.sparse[c];
    const layer = (k, j) => g.append('path').attr('d', area(k)).attr('fill', 'url(#speckle-' + color + '-' + j + ')');
    g.append('path').attr('d', area(sparse.map(d => d + 0.45))).attr('fill', 'url(#far-' + color + ')');
    layer(sparse, 0);
    layer(mix(dense, sparse, 0.5), 1);
    [2, 3].forEach(j => layer(dense, j));
    [4, 5, 6].forEach(j => layer(mix(solid, dense, 0.55), j));
    [7, 8, 9, 10, 11, 12, 13].forEach(j => layer(mix(solid, dense, 0.2), j));
    g.append('path').attr('d', area(solid)).attr('fill', chromColors[color]);
    g.append('path').attr('d', area(solid)).attr('fill', 'url(#fleck)');
  });

  // single points
  g.append('g').selectAll('circle').data(p.points).join('circle')
    .attr('cx', d => pos(d[0]))
    .attr('cy', d => y(d[1]))
    .attr('r', 1.8)
    .attr('fill', d => chromColors[Math.min(d3.bisectLeft(chromEnds, d[0] * 903.8 / p.span), 9) % 2]);

  // significance line
  g.append('line').attr('x1', p.left).attr('x2', p.right).attr('y1', y(6)).attr('y2', y(6))
    .attr('stroke', '#777').attr('stroke-width', 1.2).attr('stroke-dasharray', '4,2');

  // frame
  g.append('rect').attr('x', p.left).attr('y', p.top).attr('width', p.right - p.left).attr('height', p.base - p.top)
    .attr('fill', 'none').attr('stroke', '#777').attr('stroke-width', 1.5);

  const xAxis = d3.axisBottom(genome).tickValues(chromMids).tickFormat((d, i) => chromNames[i]).tickSize(0).tickPadding(9);
  const xG = g.append('g').attr('transform', 'translate(0,' + p.base + ')').call(xAxis);
  xG.select('.domain').attr('stroke', '#444').attr('stroke-width', 1.5);
  xG.selectAll('text').attr('font-size', 11.5).attr('fill', '#444');

  const yAxis = d3.axisLeft(y).tickValues(p.yTicks).tickFormat(d => d ? d : '').tickSize(6).tickPadding(9);
  const yG = g.append('g').attr('transform', 'translate(' + p.left + ',0)').call(yAxis);
  yG.select('.domain').attr('stroke', '#555').attr('stroke-width', 1.5);
  yG.selectAll('line').attr('stroke', '#555');
  yG.selectAll('text').attr('font-size', 11.5).attr('fill', '#444');

  g.append('text').attr('x', (p.left + p.right) / 2).attr('y', p.base + 51)
    .attr('text-anchor', 'middle').attr('font-size', 14.5).text('Chromosome');

  const yLabel = g.append('text')
    .attr('transform', 'translate(' + (p.left - 38) + ',' + (p.top + p.base) / 2 + ') rotate(-90)')
    .attr('text-anchor', 'middle').attr('font-size', 14.5);
  yLabel.append('tspan').text('\u2212log');
  yLabel.append('tspan').attr('font-size', 10).attr('dy', 3).text('10');
  yLabel.append('tspan').attr('dy', -3).text('(p\u2009\u2212\u2009value)');

  g.append('text').attr('class', 'title').attr('x', p.titleX).attr('y', p.titleY).text(p.title);
}
</script>
</body>
</html>
